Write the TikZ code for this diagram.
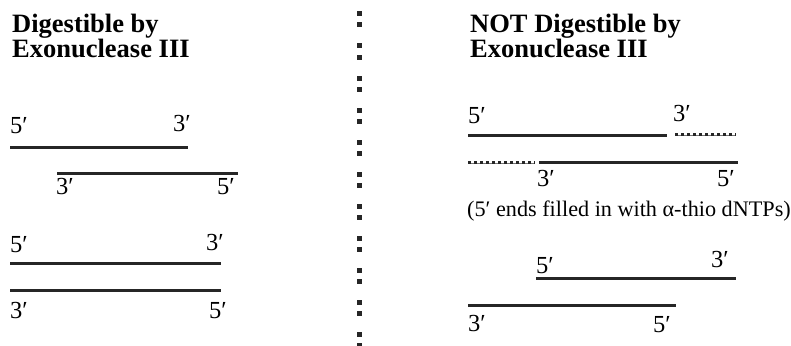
\documentclass[tikz,border=0pt]{standalone}
\usepackage{fontspec}
\setmainfont{Liberation Serif}
\begin{document}
\begin{tikzpicture}[x=1pt,y=-1pt,
  strand/.style={line width=3pt, black!85},
  lbl/.style={anchor=base west, inner sep=0pt, font=\fontsize{24.5}{27}\selectfont},
  captext/.style={anchor=base west, inner sep=0pt, font=\fontsize{22.2}{25}\selectfont},
  head/.style={anchor=base west, inner sep=0pt, font=\fontsize{26.5}{28}\selectfont\bfseries},
  sq/.style={fill=black!85, minimum size=5pt, inner sep=0pt, draw=none}]
\useasboundingbox (0,0) rectangle (791,345);
% headings
\node[head] (h1) at (12,33) {Digestible by};
\node[head] (h2) at (12,57) {Exonuclease III};
\node[head] (h3) at (470,33) {NOT Digestible by};
\node[head] (h4) at (470,57) {Exonuclease III};
% divider
\foreach \k in {0,...,10}{
  \node[sq] (da\k) at (359.5,{14+32*\k}) {};
  \node[sq] (db\k) at (359.5,{25+32*\k}) {};
}
% left panel
\draw[strand] (10,147) coordinate (l1a) -- (188,147) coordinate (l1b);
\node[lbl] (l1p) at (10,133) {5′};
\node[lbl] (l1q) at (173,131) {3′};
\draw[strand] (57,173) coordinate (l2a) -- (238,173) coordinate (l2b);
\node[lbl] (l2p) at (56,194) {3′};
\node[lbl] (l2q) at (217,194) {5′};
\draw[strand] (10,263) coordinate (l3a) -- (221,263) coordinate (l3b);
\node[lbl] (l3p) at (10,252) {5′};
\node[lbl] (l3q) at (206,250) {3′};
\draw[strand] (10,290) coordinate (l4a) -- (221,290) coordinate (l4b);
\node[lbl] (l4p) at (10,318) {3′};
\node[lbl] (l4q) at (209,318) {5′};
% right panel
\draw[strand] (468,135) coordinate (r1a) -- (667,135) coordinate (r1b);
\node[lbl] (r1p) at (468,123) {5′};
\node[lbl] (r1q) at (673,121) {3′};
\draw[strand] (539,162) coordinate (r2a) -- (738,162) coordinate (r2b);
\node[lbl] (r2p) at (537,186) {3′};
\node[lbl] (r2q) at (717,186) {5′};
% filled-in (thio) ends
\foreach \a/\b/\y in {675/736/134, 468/535/162}{
  \draw[line width=3pt, black!55] (\a,\y) -- (\b,\y);
  \draw[line width=1.5pt, white] (\a+0.7,\y) -- (\b-0.7,\y);
  \draw[line width=3pt, black!85, dash pattern=on 2.6pt off 3.4pt] (\a,\y) -- (\b,\y);
}
\node[captext] (cp) at (467,216) {(5′ ends filled in with α-thio dNTPs)};
\draw[strand] (536,278) coordinate (r3a) -- (736,278) coordinate (r3b);
\node[lbl] (r3p) at (536,273) {5′};
\node[lbl] (r3q) at (711,267) {3′};
\draw[strand] (468,305) coordinate (r4a) -- (676,305) coordinate (r4b);
\node[lbl] (r4p) at (468,331) {3′};
\node[lbl] (r4q) at (653,332) {5′};
\end{tikzpicture}
\end{document}
